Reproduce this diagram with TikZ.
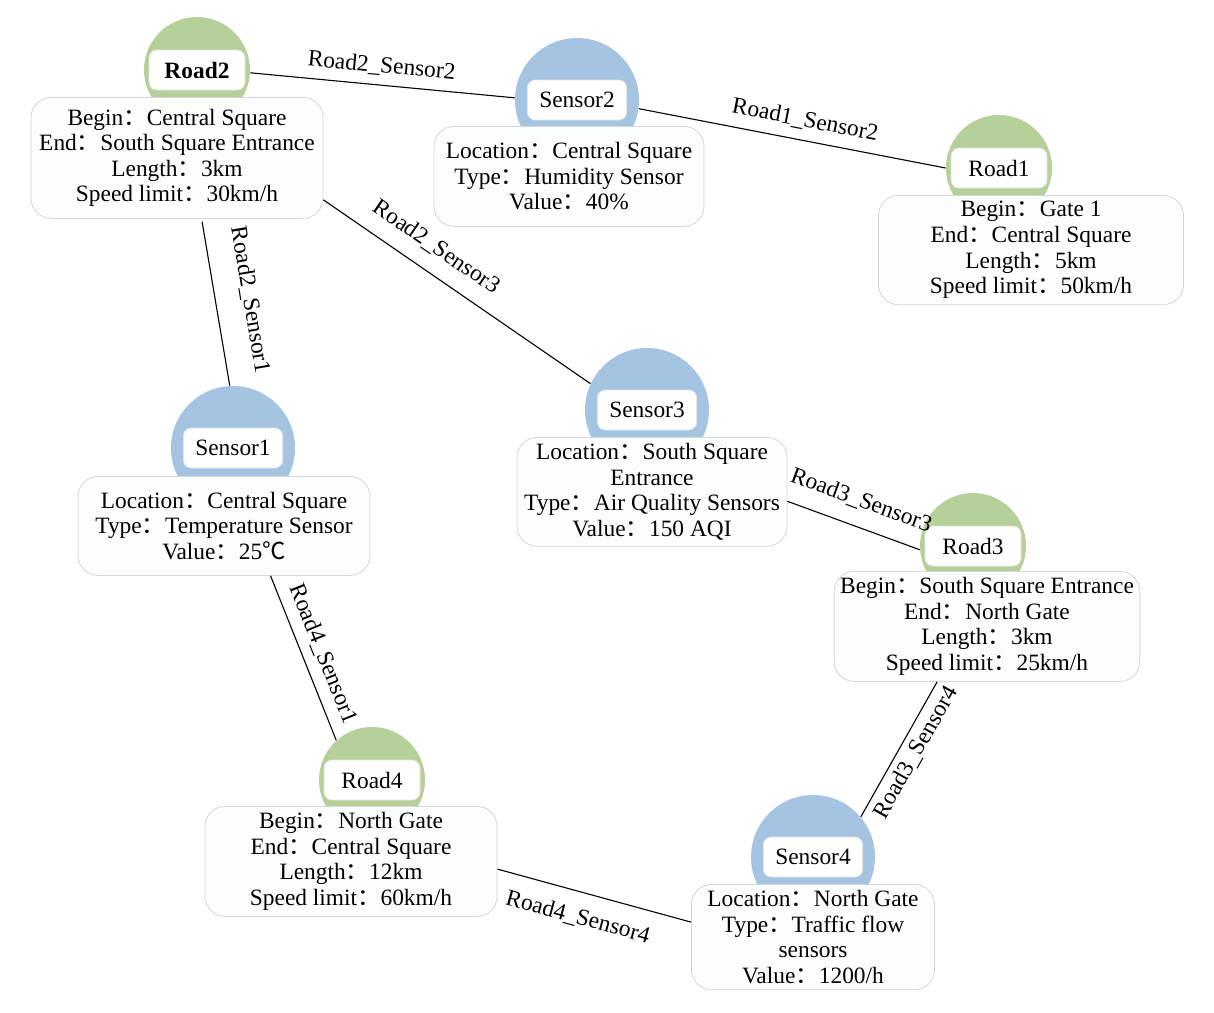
\documentclass[tikz,border=0pt]{standalone}
\usepackage{fontspec}
\setmainfont{Liberation Serif}
\newfontfamily\cjk{Noto Sans CJK SC}
\usepackage{xcolor}
\usetikzlibrary{positioning}
\definecolor{roadgreen}{RGB}{181,208,152}
\definecolor{sensorblue}{RGB}{164,196,226}
\definecolor{boxgray}{RGB}{212,215,215}
\definecolor{boxfill}{RGB}{252,253,253}
\newcommand{\fwc}{{\cjk ：}}
\newcommand{\degc}{{\cjk ℃}}
\newcommand{\graphsize}{\fontsize{11.7}{12.8}\selectfont}

\begin{document}
\begin{tikzpicture}[
  x=0.5pt,y=-0.5pt,
  every node/.style={font=\graphsize,align=center},
  road/.style={circle,fill=roadgreen,minimum size=53pt,inner sep=0pt},
  sensor/.style={circle,fill=sensorblue,minimum size=62pt,inner sep=0pt},
  tag/.style={draw=boxgray!70,fill=white,rounded corners=4pt,
              minimum width=48pt,minimum height=20pt,inner xsep=6pt,inner ysep=2pt},
  info/.style={draw=boxgray,fill=boxfill,rounded corners=10pt,inner sep=3pt},
  link/.style={line width=0.55pt},
  lbl/.style={sloped,inner sep=#1},
  lbl/.default=4.5pt
]
\useasboundingbox (0,0) rectangle (1214,1012);

\node[road] (road2) at (197,70) {};
\node[tag,font=\graphsize\bfseries] (road2tag) at (road2) {Road2};
\node[info,below=13.5pt of road2.center,xshift=-10pt,minimum width=146pt,minimum height=60.5pt]
  (road2info) {Begin\fwc Central Square\\End\fwc South Square Entrance\\Length\fwc 3km\\Speed limit\fwc 30km/h};

\node[sensor] (sensor2) at (577,100) {};
\node[tag] (sensor2tag) at (sensor2) {Sensor2};
\node[info,below=13pt of sensor2.center,xshift=-4pt,minimum width=135pt,minimum height=50pt]
  (sensor2info) {Location\fwc Central Square\\Type\fwc Humidity Sensor\\Value\fwc 40\%};

\node[road] (road1) at (999,168) {};
\node[tag] (road1tag) at (road1) {Road1};
\node[info,below=13.5pt of road1.center,xshift=16pt,minimum width=152.5pt,minimum height=52.5pt]
  (road1info) {Begin\fwc Gate 1\\End\fwc Central Square\\Length\fwc 5km\\Speed limit\fwc 50km/h};

\node[sensor] (sensor1) at (233,448) {};
\node[tag] (sensor1tag) at (sensor1) {Sensor1};
\node[info,below=14pt of sensor1.center,xshift=-4.5pt,minimum width=146pt,minimum height=49.5pt]
  (sensor1info) {Location\fwc Central Square\\Type\fwc Temperature Sensor\\Value\fwc 25\degc};

\node[sensor] (sensor3) at (647,410) {};
\node[tag] (sensor3tag) at (sensor3) {Sensor3};
\node[info,below=13.5pt of sensor3.center,xshift=2.5pt,minimum width=135pt,minimum height=54pt]
  (sensor3info) {Location\fwc South Square\\Entrance\\Type\fwc Air Quality Sensors\\Value\fwc 150 AQI};

\node[road] (road3) at (973,546) {};
\node[tag] (road3tag) at (road3) {Road3};
\node[info,below=12.5pt of road3.center,xshift=7pt,minimum width=152.5pt,minimum height=53pt]
  (road3info) {Begin\fwc South Square Entrance\\End\fwc North Gate\\Length\fwc 3km\\Speed limit\fwc 25km/h};

\node[road] (road4) at (372,780) {};
\node[tag] (road4tag) at (road4) {Road4};
\node[info,below=13pt of road4.center,xshift=-10.5pt,minimum width=146pt,minimum height=53pt]
  (road4info) {Begin\fwc North Gate\\End\fwc Central Square\\Length\fwc 12km\\Speed limit\fwc 60km/h};

\node[sensor] (sensor4) at (813,857) {};
\node[tag] (sensor4tag) at (sensor4) {Sensor4};
\node[info,below=13.5pt of sensor4.center,minimum width=121.5pt,minimum height=50pt]
  (sensor4info) {Location\fwc North Gate\\Type\fwc Traffic flow\\sensors\\Value\fwc 1200/h};

% relations
\draw[link] (road2.-3) -- node[lbl,above,pos=0.49] {Road2\_Sensor2} (sensor2.178);
\draw[link] (sensor2.-8) -- node[lbl=5pt,above,pos=0.53] {Road1\_Sensor2} (road1.180);
\draw[link,shorten <=1.5pt] (road2info.-68) -- node[lbl=12pt,above,pos=0.52] {Road2\_Sensor1} (sensor1.93);
\draw[link] (road2info.-16) -- node[lbl=7.5pt,above,pos=0.37] {Road2\_Sensor3} (sensor3.155);
\draw[link] (sensor3info.-4) -- node[lbl=8pt,above,pos=0.49] {Road3\_Sensor3} (road3.184);
\draw[link] (sensor1info.-47) -- node[lbl=5pt,above,pos=0.52] {Road4\_Sensor1} (road4.132);
\draw[link] (sensor4.40) -- node[lbl=3pt,below,pos=0.535] {Road3\_Sensor4} (road3info.-132);
\draw[link] (road4info.-3.5) -- node[lbl=7.5pt,below,pos=0.45] {Road4\_Sensor4} (sensor4info.173);
\end{tikzpicture}
\end{document}
